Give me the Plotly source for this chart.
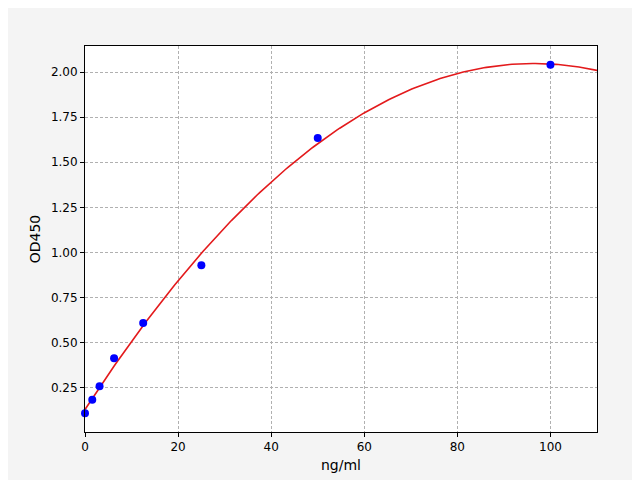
import numpy as np
import plotly.graph_objects as go

# standard points
conc = [0, 1.56, 3.125, 6.25, 12.5, 25, 50, 100]
od = [0.11, 0.185, 0.26, 0.415, 0.61, 0.93, 1.635, 2.04]

# quadratic fit through the standards, as in the reference curve
coef = np.polyfit(conc, od, 2)
xs = np.linspace(0, 110, 200)
ys = np.polyval(coef, xs)

fig = go.Figure()
fig.add_trace(go.Scatter(x=xs, y=ys, mode='lines',
                         line=dict(color='#e31a1c', width=1.6), showlegend=False))
fig.add_trace(go.Scatter(x=conc, y=od, mode='markers',
                         marker=dict(color='#0000ff', size=8), showlegend=False,
                         cliponaxis=False))

axis_common = dict(showline=True, linecolor='black', linewidth=1, mirror=True,
                   ticks='outside', ticklen=4, tickcolor='black', automargin=False,
                   showgrid=True, gridcolor='#b0b0b0', griddash='3px,2px', gridwidth=1,
                   zeroline=False, tickfont=dict(size=12, color='black'))

fig.update_layout(
    width=640, height=480,
    paper_bgcolor='#f4f4f4', plot_bgcolor='white',
    margin=dict(l=77, r=51, t=38, b=56),
    font=dict(family='DejaVu Sans', size=12, color='black'),
    xaxis=dict(range=[0, 110], tickvals=[0, 20, 40, 60, 80, 100],
               title=dict(text='ng/ml', standoff=6), **axis_common),
    yaxis=dict(range=[0.006, 2.144], tickvals=[0.25, 0.5, 0.75, 1.0, 1.25, 1.5, 1.75, 2.0],
               tickformat='.2f', title=dict(text='OD450', standoff=6), **axis_common),
)

fig.write_html("out.html")
